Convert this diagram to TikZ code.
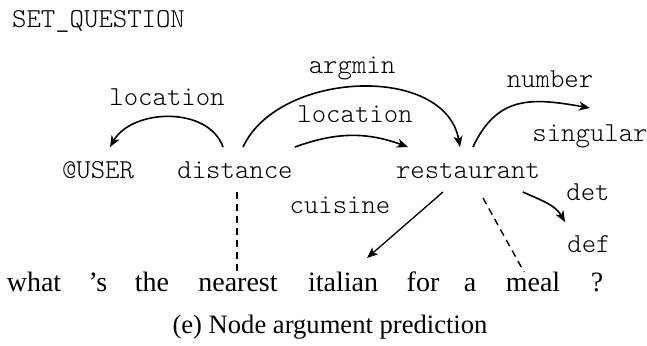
\documentclass[tikz,border=0pt]{standalone}
\usepackage{fontspec}
\setmainfont{Liberation Serif}
\newfontfamily\monofam{lmmonolt10-regular.otf}
\usetikzlibrary{arrows.meta,calc}
\begin{document}
\begin{tikzpicture}[x=1pt,y=1pt,
  mono/.style={font=\monofam\fontsize{27.4}{30}\selectfont, inner sep=0pt, anchor=base},
  word/.style={font=\fontsize{28}{32}\selectfont, inner sep=0pt, anchor=base},
  arc/.style={line width=1.6pt, -{Stealth[length=11pt,width=9pt,inset=3pt]}},
  straight/.style={line width=1.3pt, -{Stealth[length=11pt,width=9pt,inset=3pt]}},
  align/.style={line width=1.4pt, dash pattern=on 7pt off 5pt}]
\useasboundingbox (0,0) rectangle (647,-345);
% graph nodes
\node[mono, anchor=base west] (setq) at (12,-28) {SET\_QUESTION};
\node[mono] (user) at (98,-178) {@USER};
\node[mono] (distance) at (235,-178) {distance};
\node[mono] (restaurant) at (468,-178) {restaurant};
\node[mono] (singular) at (590,-141) {singular};
\node[mono] (def) at (589,-252) {def};
% edge labels
\node[mono] (lblloc1) at (167,-105) {location};
\node[mono] (lblargmin) at (352,-74) {argmin};
\node[mono] (lblloc2) at (355,-122) {location};
\node[mono] (lblnumber) at (550,-87) {number};
\node[mono] (lblcuisine) at (340,-213) {cuisine};
\node[mono] (lbldet) at (588,-200) {det};
% sentence
\node[word] (w1) at (34,-291) {what};
\node[word] (w2) at (98,-291) {'s};
\node[word] (w3) at (152,-291) {the};
\node[word] (w4) at (238,-291) {nearest};
\node[word] (w5) at (343,-291) {italian};
\node[word] (w6) at (423,-291) {for};
\node[word] (w7) at (470,-291) {a};
\node[word] (w8) at (533,-291) {meal};
\node[word] (w9) at (597,-291) {?};
% caption
\node[font=\fontsize{26.6}{30}\selectfont, inner sep=0pt, anchor=base] (caption) at (330,-333) {(e) Node argument prediction};
% edges
\draw[arc] ($(distance.base)+(-12,31)$) to[out=110,in=60] ($(user.base)+(12,31)$);
\draw[arc] ($(distance.base)+(8,31)$) to[out=65,in=100] ($(restaurant.base)+(-8,31)$);
\draw[arc] ($(distance.base)+(60,31)$) to[out=20,in=160] ($(restaurant.base)+(-60,31)$);
\draw[arc] ($(restaurant.base)+(5,31)$) to[out=65,in=170,looseness=1.2] ($(singular.base)+(0,33)$);
\draw[arc] ($(restaurant.base)+(55,-14)$) to[out=-25,in=120] ($(def.base)+(-24,30)$);
\draw[straight] ($(restaurant.base)+(-25,-14)$) -- ($(w5.base)+(24,33)$);
\draw[align] ($(distance.base)+(2,-14)$) -- ($(w4.base)+(-1,19)$);
\draw[align] ($(restaurant.base)+(15,-20)$) -- ($(w8.base)+(-9,19)$);
\end{tikzpicture}
\end{document}
